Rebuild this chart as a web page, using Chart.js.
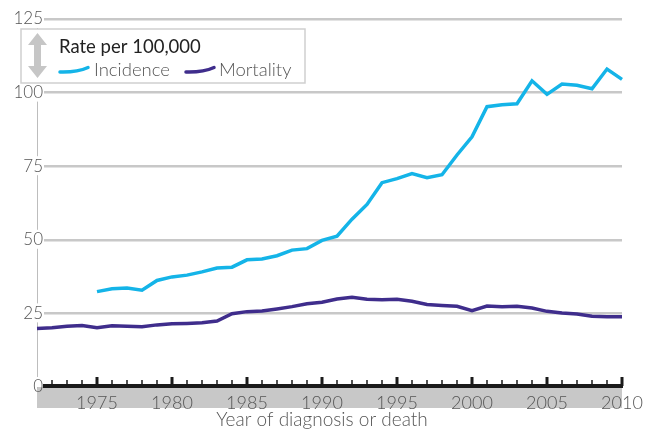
<!DOCTYPE html>
<html>
<head>
<meta charset="utf-8">
<title>Rate per 100,000 - incidence and mortality</title>
<script src="https://cdn.jsdelivr.net/npm/chart.js@4.4.1/dist/chart.umd.min.js"></script>
<style>
  html, body { margin: 0; padding: 0; background: #fff; }
  canvas { display: block; }
</style>
</head>
<body>
<canvas id="rateChart" width="656" height="430"></canvas>
<script>
const years = [1971, 1972, 1973, 1974, 1975, 1976, 1977, 1978, 1979, 1980,
               1981, 1982, 1983, 1984, 1985, 1986, 1987, 1988, 1989, 1990,
               1991, 1992, 1993, 1994, 1995, 1996, 1997, 1998, 1999, 2000,
               2001, 2002, 2003, 2004, 2005, 2006, 2007, 2008, 2009, 2010];

// incidence only starts in 1975
const incidence = [null, null, null, null, 32.4, 33.4, 33.6, 32.9, 36.2, 37.4,
                   38.0, 39.1, 40.4, 40.7, 43.2, 43.5, 44.6, 46.5, 47.0, 49.8,
                   51.2, 57.0, 62.0, 69.4, 70.8, 72.5, 71.1, 72.1, 78.8, 85.0,
                   95.2, 95.9, 96.2, 104.0, 99.4, 102.9, 102.5, 101.3, 108.0, 104.5];

const mortality = [19.9, 20.1, 20.6, 20.9, 20.1, 20.8, 20.6, 20.5, 21.1, 21.5,
                   21.6, 21.8, 22.4, 24.9, 25.6, 25.8, 26.5, 27.3, 28.3, 28.8,
                   29.9, 30.5, 29.8, 29.6, 29.8, 29.1, 28.0, 27.7, 27.4, 25.9,
                   27.5, 27.3, 27.4, 26.8, 25.7, 25.1, 24.8, 24.0, 23.9, 23.9];

const yTicks = [0, 25, 50, 75, 100, 125];
const labeledEvery = 5;
const xTitle = 'Year of diagnosis or death';

const cyan = '#14b4e8';
const purple = '#3f2d8c';
const textGrey = '#555';
const fontFamily = 'Lato, "Open Sans", sans-serif';

// grey band, black axis line, year ticks and the y labels
const axisDecor = {
    id: 'axisDecor',
    beforeDraw(chart) {
        const { ctx, chartArea } = chart;
        ctx.save();
        ctx.fillStyle = '#c8c8c8';
        ctx.fillRect(chartArea.left, chartArea.bottom, chartArea.right - chartArea.left, 21);
        ctx.restore();
    },
    afterDatasetsDraw(chart) {
        const { ctx, chartArea, scales } = chart;
        const base = chartArea.bottom - 1;
        ctx.save();

        // y labels sit over the axis line, on a white patch
        ctx.font = '300 17px ' + fontFamily;
        ctx.textAlign = 'right';
        ctx.textBaseline = 'middle';
        yTicks.forEach(v => {
            const py = scales.y.getPixelForValue(v);
            const bottom = Math.min(py + 9, chartArea.bottom);
            ctx.fillStyle = '#fff';
            ctx.fillRect(chartArea.left - 2, py - 10, 9, bottom - (py - 10));
            ctx.fillStyle = textGrey;
            ctx.fillText(String(v), chartArea.left + 6, py);
        });

        ctx.strokeStyle = '#1a1a1a';
        ctx.lineWidth = 4;
        ctx.beginPath();
        ctx.moveTo(chartArea.left + 6, base);
        ctx.lineTo(chartArea.right + 1, base);
        ctx.stroke();
        years.forEach((yr, i) => {
            if (i === 0) return;
            const px = scales.x.getPixelForValue(i);
            const major = yr % labeledEvery === 0;
            ctx.lineWidth = major ? 3 : 1.5;
            ctx.beginPath();
            ctx.moveTo(px, base);
            ctx.lineTo(px, base - (major ? 9 : 6));
            ctx.stroke();
        });

        ctx.font = '300 19px ' + fontFamily;
        ctx.textAlign = 'center';
        ctx.fillStyle = textGrey;
        ctx.fillText(xTitle, 322, 420);
        ctx.restore();
    }
};

// boxed key in the top left corner
const keyBox = {
    id: 'keyBox',
    afterDraw(chart) {
        const ctx = chart.ctx;
        ctx.save();
        ctx.fillStyle = '#fff';
        ctx.fillRect(21, 29, 284, 54);
        ctx.strokeStyle = '#cfcfcf';
        ctx.lineWidth = 1.5;
        ctx.strokeRect(21, 29, 284, 54);

        // double arrow
        ctx.fillStyle = '#c6c6c6';
        ctx.beginPath();
        ctx.moveTo(37.5, 33);
        ctx.lineTo(47, 45);
        ctx.lineTo(41, 45);
        ctx.lineTo(41, 66);
        ctx.lineTo(47, 66);
        ctx.lineTo(37.5, 78);
        ctx.lineTo(28, 66);
        ctx.lineTo(34, 66);
        ctx.lineTo(34, 45);
        ctx.lineTo(28, 45);
        ctx.closePath();
        ctx.fill();

        ctx.fillStyle = '#222';
        ctx.font = '400 18.5px ' + fontFamily;
        ctx.textBaseline = 'alphabetic';
        ctx.fillText('Rate per 100,000', 59, 53);

        const swatch = (x, color) => {
            ctx.strokeStyle = color;
            ctx.lineWidth = 3.5;
            ctx.lineCap = 'round';
            ctx.beginPath();
            ctx.moveTo(x, 72);
            ctx.quadraticCurveTo(x + 17, 72.5, x + 28, 67.5);
            ctx.stroke();
        };
        ctx.font = '300 18.5px ' + fontFamily;
        ctx.fillStyle = textGrey;
        swatch(60, cyan);
        ctx.fillText('Incidence', 94, 76);
        swatch(186, purple);
        ctx.fillText('Mortality', 219, 76);
        ctx.restore();
    }
};

new Chart(document.getElementById('rateChart'), {
    type: 'line',
    data: {
        labels: years,
        datasets: [{
            label: 'Incidence',
            data: incidence,
            borderColor: cyan,
            borderWidth: 3.5,
            pointRadius: 0,
            tension: 0
        }, {
            label: 'Mortality',
            data: mortality,
            borderColor: purple,
            borderWidth: 3.5,
            pointRadius: 0,
            tension: 0
        }]
    },
    options: {
        responsive: false,
        animation: false,
        devicePixelRatio: 1,
        layout: { padding: { top: 19, right: 34, bottom: 0, left: 0 } },
        plugins: {
            legend: { display: false },
            tooltip: { enabled: false }
        },
        scales: {
            x: {
                type: 'category',
                afterFit(scale) { scale.height = 43; },
                grid: { display: false },
                border: { display: false },
                ticks: {
                    autoSkip: false,
                    maxRotation: 0,
                    padding: -3,
                    color: textGrey,
                    font: { family: fontFamily, size: 18, weight: '300' },
                    callback(value, i) {
                        return years[i] % labeledEvery === 0 ? String(years[i]) : '';
                    }
                }
            },
            y: {
                min: yTicks[0],
                max: yTicks[yTicks.length - 1],
                afterFit(scale) { scale.width = 37; },
                afterBuildTicks(scale) {
                    scale.ticks = yTicks.map(v => ({ value: v }));
                },
                grid: {
                    drawTicks: false,
                    lineWidth: 2.5,
                    color: c => (c.tick && c.tick.value === 0) ? 'rgba(0,0,0,0)' : '#c8c8c8'
                },
                border: { display: true, color: '#bdbdbd', width: 1 },
                ticks: { display: false }
            }
        }
    },
    plugins: [axisDecor, keyBox]
});
</script>
</body>
</html>
